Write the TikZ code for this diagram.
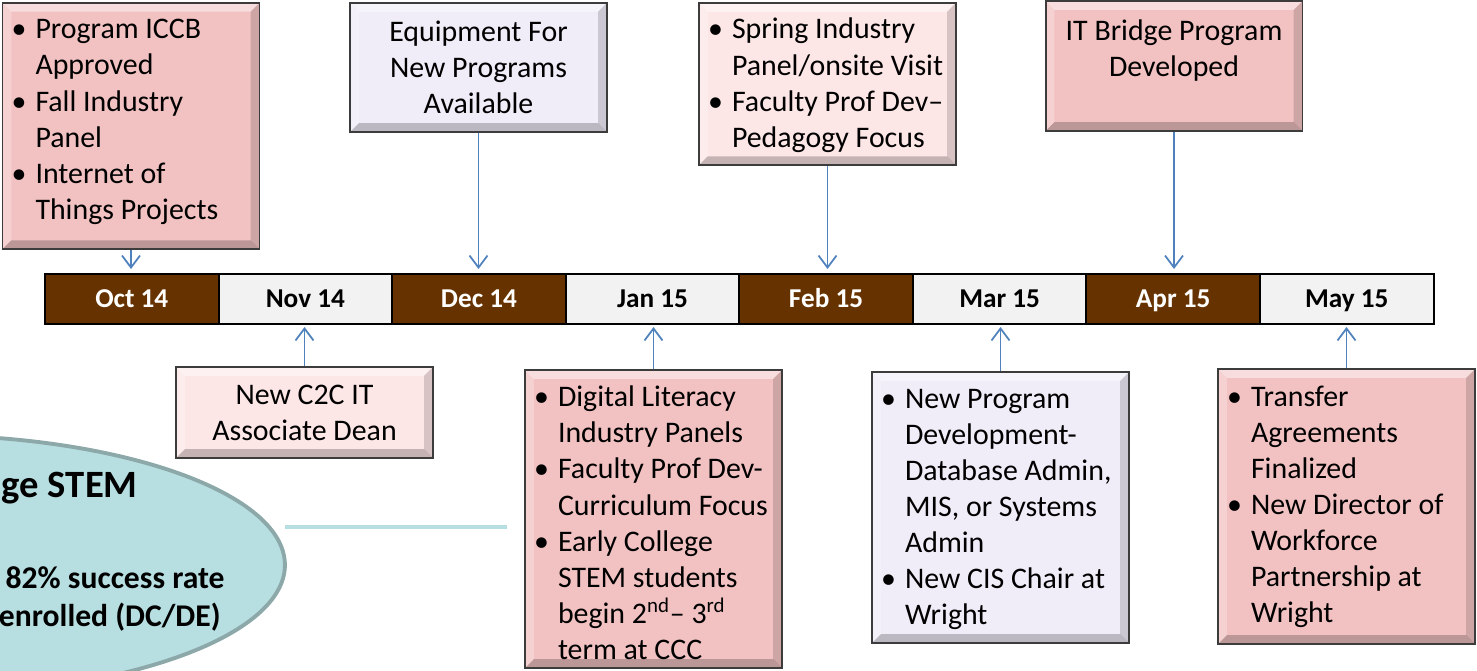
\documentclass[tikz,border=0pt]{standalone}
\usepackage{fontspec}
\setmainfont{Carlito}
\usetikzlibrary{positioning,shapes.geometric,arrows.meta}

\definecolor{brownbar}{HTML}{663300}
\definecolor{graybar}{HTML}{F2F2F2}
\definecolor{rosefill}{HTML}{F2C2C2}
\definecolor{palerose}{HTML}{FDE6E6}
\definecolor{lilac}{HTML}{F0ECF8}
\definecolor{arrowblue}{HTML}{4F81BD}
\definecolor{tealfill}{HTML}{B7DFE2}
\definecolor{tealedge}{HTML}{8CA8A9}
\definecolor{boxedge}{HTML}{3C3C3C}

% bullet line with hanging indent
\newcommand{\bitem}{\par\noindent\hangindent=0.58cm\hangafter=1\hspace*{0.1cm}\makebox[0.48cm][l]{\textbullet}}
% extra depth under the last line
\newcommand{\bend}[1]{\rule[-#1]{0pt}{0pt}\par}

\begin{document}
\begin{tikzpicture}[x=0.02cm, y=-0.02cm,
    bevel/.style={path picture={
        \fill[white, opacity=.45] (path picture bounding box.north west) -- (path picture bounding box.north east)
          -- ([shift={(-5pt,-5pt)}]path picture bounding box.north east) -- ([shift={(5pt,-5pt)}]path picture bounding box.north west) -- cycle;
        \fill[white, opacity=.25] (path picture bounding box.north west) -- (path picture bounding box.south west)
          -- ([shift={(5pt,5pt)}]path picture bounding box.south west) -- ([shift={(5pt,-5pt)}]path picture bounding box.north west) -- cycle;
        \fill[black, opacity=.22] (path picture bounding box.south west) -- (path picture bounding box.south east)
          -- ([shift={(-5pt,5pt)}]path picture bounding box.south east) -- ([shift={(5pt,5pt)}]path picture bounding box.south west) -- cycle;
        \fill[black, opacity=.15] (path picture bounding box.north east) -- (path picture bounding box.south east)
          -- ([shift={(-5pt,5pt)}]path picture bounding box.south east) -- ([shift={(-5pt,-5pt)}]path picture bounding box.north east) -- cycle;
      }},
    evbox/.style={draw=boxedge, line width=1.1pt, text width=4.98cm, inner xsep=0.08cm, inner ysep=0pt,
      align=flush left, font=\fontsize{17}{20.5}\selectfont, bevel},
    month/.style={draw=black, line width=1.1pt, minimum width=3.472cm, minimum height=1cm, outer sep=0pt,
      text height=2.3ex, text depth=0.3ex, font=\fontsize{15.5}{18}\selectfont\bfseries},
    arr/.style={draw=arrowblue, line width=1pt, -{Straight Barb[length=0.24cm, width=0.36cm]}},
    stemtext/.style={anchor=east, inner sep=0pt, font=\fontsize{18}{22}\selectfont\bfseries}]

  \useasboundingbox (0,0) rectangle (1477,670);

  % timeline
  \node[month, fill=brownbar, text=white] (oct) at (131.8,299) {Oct 14};
  \node[month, fill=graybar, right=0pt of oct] (nov) {Nov 14};
  \node[month, fill=brownbar, text=white, right=0pt of nov] (dec) {Dec 14};
  \node[month, fill=graybar, right=0pt of dec] (jan) {Jan 15};
  \node[month, fill=brownbar, text=white, right=0pt of jan] (feb) {Feb 15};
  \node[month, fill=graybar, right=0pt of feb] (mar) {Mar 15};
  \node[month, fill=brownbar, text=white, right=0pt of mar] (apr) {Apr 15};
  \node[month, fill=graybar, right=0pt of apr] (may) {May 15};

  % events above
  \node[evbox, fill=rosefill, minimum height=4.92cm] (evOct) at (131,126)
    {\bitem Program ICCB\newline Approved\bitem Fall Industry\newline Panel\bitem Internet of\newline Things Projects\bend{0.6cm}};
  \node[evbox, fill=lilac, align=flush center, minimum height=2.58cm] (evDec) at (478.5,67.5)
    {Equipment For\\New Programs\\Available};
  \node[evbox, fill=palerose, minimum height=3.24cm] (evFeb) at (827.5,84)
    {\bitem Spring Industry\newline Panel/onsite Visit\bitem Faculty Prof Dev--\newline Pedagogy Focus\bend{0.36cm}};
  \node[evbox, fill=rosefill, align=flush center, minimum height=2.6cm] (evApr) at (1174,66)
    {IT Bridge Program\\Developed\\\mbox{}};

  % events below
  \node[evbox, fill=palerose, align=flush center, minimum height=1.82cm] (evNov) at (304.5,412.5)
    {New C2C IT\\Associate Dean};
  \node[evbox, fill=rosefill, minimum height=5.96cm] (evJan) at (653.5,519)
    {\bitem Digital Literacy\newline Industry Panels\bitem Faculty Prof Dev-\newline Curriculum Focus\bitem Early College\newline STEM students\newline begin 2\textsuperscript{nd}-- 3\textsuperscript{rd}\newline term at CCC\bend{0.16cm}};
  \node[evbox, fill=lilac, minimum height=5.42cm] (evMar) at (1000.5,507.5)
    {\bitem New Program\newline Development-\newline Database Admin,\newline MIS, or Systems\newline Admin\bitem New CIS Chair at\newline Wright\bend{0.36cm}};
  \node[evbox, fill=rosefill, minimum height=5.5cm] (evMay) at (1346.5,506.5)
    {\bitem Transfer\newline Agreements\newline Finalized\bitem New Director of\newline Workforce\newline Partnership at\newline Wright\bend{0.4cm}};

  % connectors
  \draw[arr, shorten >=0.1cm] (evOct.south) -- (evOct.south |- oct.north);
  \draw[arr, shorten >=0.1cm] (evDec.south) -- (evDec.south |- dec.north);
  \draw[arr, shorten >=0.1cm] (evFeb.south) -- (evFeb.south |- feb.north);
  \draw[arr, shorten >=0.1cm] (evApr.south) -- (evApr.south |- apr.north);
  \draw[arr, shorten >=0.06cm] (evNov.north) -- (evNov.north |- nov.south);
  \draw[arr, shorten >=0.06cm] (evJan.north) -- (evJan.north |- jan.south);
  \draw[arr, shorten >=0.06cm] (evMar.north) -- (evMar.north |- mar.south);
  \draw[arr, shorten >=0.06cm] (evMay.north) -- (evMay.north |- may.south);

  % early college callout
  \node[ellipse, draw=tealedge, fill=tealfill, line width=2.2pt, minimum width=14.6cm, minimum height=5.2cm] (stem) at (-80,565) {};
  \node[stemtext, font=\fontsize{22}{26}\selectfont\bfseries] (stemtitle) at (138,488) {ge STEM};
  \node[stemtext] (stemrate) at (225,578) {82\% success rate};
  \node[stemtext] (stemdc) at (221,617) {enrolled (DC/DE)};
  \coordinate (linestart) at (285,527);
  \coordinate (lineend) at (507,527);
  \draw[tealfill, line width=2.3pt] (linestart) -- (lineend);
\end{tikzpicture}
\end{document}
